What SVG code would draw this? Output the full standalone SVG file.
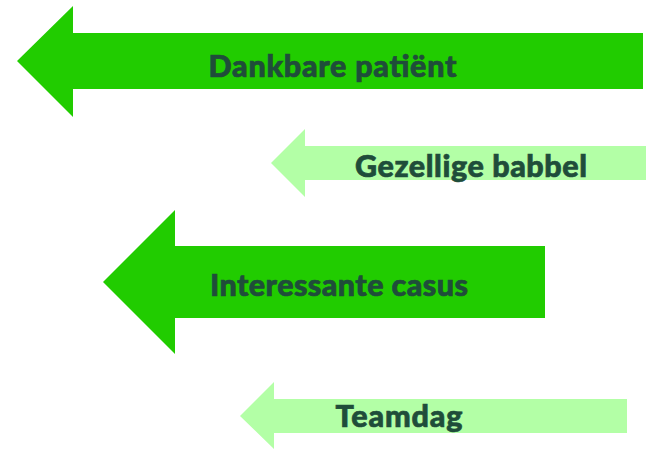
<svg xmlns="http://www.w3.org/2000/svg" width="646" height="449" viewBox="0 0 646 449">
<style>
.dark{fill:#21cc00}
.light{fill:#b3ffa6}
.lbl{font-family:Lato,"Liberation Sans",sans-serif;font-weight:900;font-size:30.5px;fill:#1f4d3a;stroke:#1f4d3a;stroke-width:0.7px}
</style>
<rect width="646" height="449" fill="#ffffff"/>
<g id="dankbare">
<polygon class="dark" points="17,61 73,6 73,33 643,33 643,89 73,89 73,117"/>
<text class="lbl" x="208.5" y="77" textLength="248" lengthAdjust="spacing">Dankbare patiënt</text>
</g>
<g id="gezellige">
<polygon class="light" points="271,163 305,129 305,146 646,146 646,180 305,180 305,197"/>
<text class="lbl" x="355" y="177" textLength="232" lengthAdjust="spacing">Gezellige babbel</text>
</g>
<g id="interessante">
<polygon class="dark" points="103,282 175,210 175,246 545,246 545,318 175,318 175,354"/>
<text class="lbl" x="210" y="296" textLength="258" lengthAdjust="spacing">Interessante casus</text>
</g>
<g id="teamdag">
<polygon class="light" points="240,416 274,382 274,399 627,399 627,433 274,433 274,449"/>
<text class="lbl" x="335.5" y="427" textLength="127" lengthAdjust="spacing">Teamdag</text>
</g>
<g id="connectors"/>
</svg>
